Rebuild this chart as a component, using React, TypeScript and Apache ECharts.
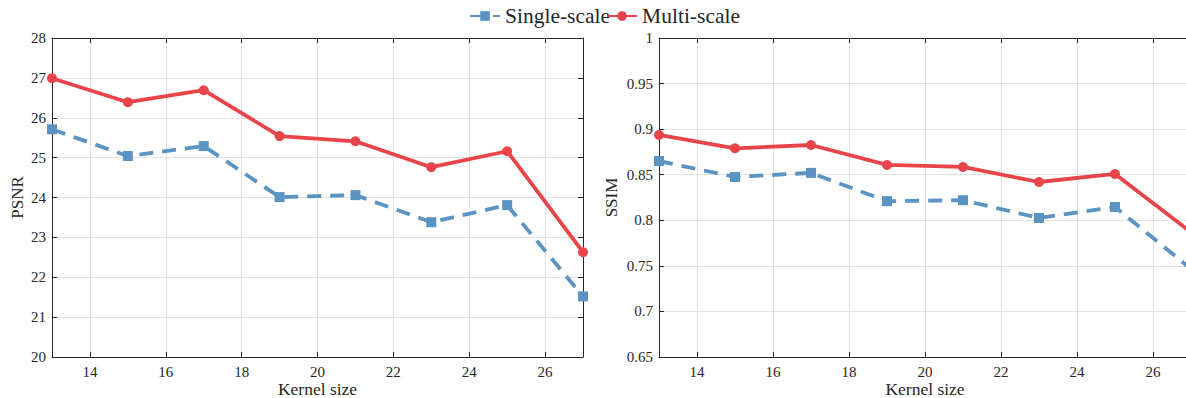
import React, { useEffect, useRef } from "react";
import * as echarts from "echarts";

const kernelSizes = [13, 15, 17, 19, 21, 23, 25, 27];
const psnrSingle = [25.71, 25.04, 25.29, 24.01, 24.06, 23.38, 23.81, 21.52];
const psnrMulti = [26.99, 26.39, 26.69, 25.54, 25.41, 24.76, 25.16, 22.63];
const ssimSingle = [0.865, 0.8475, 0.852, 0.821, 0.822, 0.8025, 0.8146, 0.7466];
const ssimMulti = [0.8936, 0.879, 0.8826, 0.8607, 0.8585, 0.842, 0.8508, 0.787];

const RED = "#e8444a";
const BLUE = "#5b93c3";
const INK = "#262626";
const FONT = "'Liberation Serif', 'Times New Roman', serif";

export default function App() {
  const ref = useRef<HTMLDivElement>(null);
  useEffect(() => {
    if (!ref.current) return;
    const chart = echarts.init(ref.current, undefined, { renderer: "svg" });
    const pair = (xs: number[], ys: number[]) => xs.map((x, i) => [x, ys[i]]);
    const grids = [
      { left: 52, top: 38, width: 531, height: 319 },
      { left: 659, top: 38, width: 532, height: 319 },
    ];
    const axisLine = { show: true, lineStyle: { color: INK, width: 1 } };
    const tickIn = { show: true, inside: true, length: 5, lineStyle: { color: INK } };
    const xAxes: any[] = [];
    const yAxes: any[] = [];
    const yDefs = [
      { min: 20, max: 28, interval: 1, name: "PSNR", gap: 26, fmt: (v: number) => String(v) },
      { min: 0.65, max: 1, interval: 0.05, name: "SSIM", gap: 39, fmt: (v: number) => String(+v.toFixed(2)) },
    ];
    grids.forEach((_, gi) => {
      xAxes.push({
        type: "value",
        gridIndex: gi,
        min: 13,
        max: 27,
        splitNumber: 7,
        position: "bottom",
        name: "Kernel size",
        nameLocation: "middle",
        nameGap: 24,
        nameMoveOverlap: false,
        nameTextStyle: { fontFamily: FONT, fontSize: 17.5, lineHeight: 16, color: INK, verticalAlign: "top" },
        axisLine,
        axisTick: tickIn,
        splitLine: { show: true, lineStyle: { color: "#e3e3e3", width: 1 } },
        axisLabel: {
          fontFamily: FONT,
          fontSize: 15,
          lineHeight: 14,
          color: INK,
          margin: 8,
          showMinLabel: false,
          showMaxLabel: false,
        },
      });
      xAxes.push({
        type: "value",
        gridIndex: gi,
        min: 13,
        max: 27,
        splitNumber: 7,
        position: "top",
        axisLine,
        axisTick: tickIn,
        splitLine: { show: false },
        axisLabel: { show: false },
      });
      const d = yDefs[gi];
      yAxes.push({
        type: "value",
        gridIndex: gi,
        min: d.min,
        max: d.max,
        interval: d.interval,
        position: "left",
        name: d.name,
        nameLocation: "middle",
        nameGap: d.gap,
        nameMoveOverlap: false,
        nameTextStyle: { fontFamily: FONT, fontSize: 17, color: INK },
        axisLine,
        axisTick: tickIn,
        splitLine: { show: true, lineStyle: { color: "#e3e3e3", width: 1 } },
        axisLabel: { fontFamily: FONT, fontSize: 15, color: INK, margin: 6, formatter: d.fmt },
      });
      yAxes.push({
        type: "value",
        gridIndex: gi,
        min: d.min,
        max: d.max,
        interval: d.interval,
        position: "right",
        axisLine,
        axisTick: tickIn,
        splitLine: { show: false },
        axisLabel: { show: false },
      });
    });

    const single = (gi: number, data: number[]) => ({
      name: "Single-scale",
      type: "line",
      xAxisIndex: gi * 2,
      yAxisIndex: gi * 2,
      data: pair(kernelSizes, data),
      symbol: "rect",
      symbolSize: 10,
      itemStyle: { color: BLUE },
      lineStyle: { color: BLUE, width: 3.8, type: [14, 9] },
      z: 3,
    });
    const multi = (gi: number, data: number[]) => ({
      name: "Multi-scale",
      type: "line",
      xAxisIndex: gi * 2,
      yAxisIndex: gi * 2,
      data: pair(kernelSizes, data),
      symbol: "circle",
      symbolSize: 10,
      itemStyle: { color: RED },
      lineStyle: { color: RED, width: 3.8 },
      z: 4,
    });

    chart.setOption({
      animation: false,
      backgroundColor: "#ffffff",
      textStyle: { fontFamily: FONT },
      legend: {
        top: 0,
        left: 464,
        itemWidth: 30,
        itemHeight: 12,
        itemGap: -4,
        textStyle: { fontFamily: FONT, fontSize: 21.5, color: INK },
        data: ["Single-scale", "Multi-scale"],
      },
      grid: grids.map((g) => ({ ...g, containLabel: false, outerBoundsMode: "none" })),
      xAxis: xAxes,
      yAxis: yAxes,
      series: [single(0, psnrSingle), multi(0, psnrMulti), single(1, ssimSingle), multi(1, ssimMulti)],
    });
    return () => chart.dispose();
  }, []);
  return (
    <div
      ref={ref}
      style={{ position: "fixed", left: 0, top: 0, width: 1186, height: 398, background: "#fff" }}
    />
  );
}
